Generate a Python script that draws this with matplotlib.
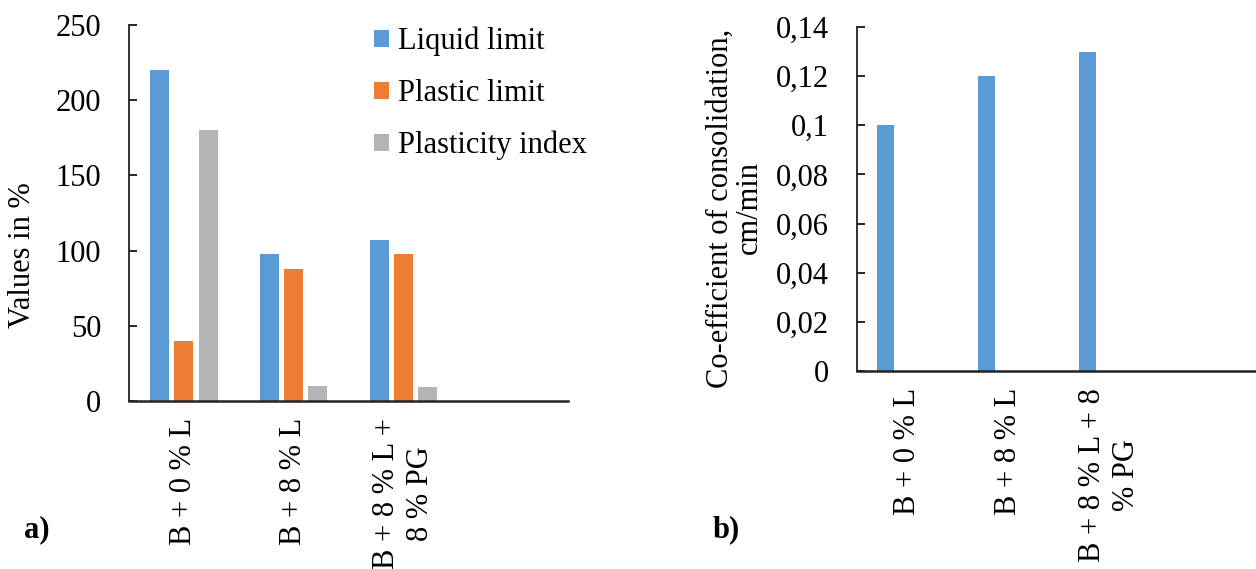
import matplotlib
matplotlib.use("Agg")
import matplotlib.pyplot as plt
import numpy as np
from matplotlib.ticker import FuncFormatter

plt.rcParams['font.family'] = ['Liberation Serif', 'DejaVu Serif']
plt.rcParams['font.size'] = 22

# atterberg limits (panel a)
mixes_a = ["B + 0 % L", "B + 8 % L", "B + 8 % L +\n8 % PG", ""]
liquid_limit = [220, 98, 107, np.nan]
plastic_limit = [40, 88, 98, np.nan]
plasticity_index = [180, 10, 9, np.nan]

# consolidation coefficient (panel b)
mixes_b = ["B + 0 % L", "B + 8 % L", "B + 8 % L + 8\n% PG", ""]
consolidation = [0.10, 0.12, 0.13, np.nan]

c_blue = '#5B9BD5'
c_orange = '#ED7D31'
c_gray = '#B4B4B4'

W, H = 1256, 569
fig = plt.figure(figsize=(W / 100, H / 100), dpi=100)


def px_axes(x0, y0, x1, y1):
    # axes box given in pixel coords, y measured from top
    return fig.add_axes([x0 / W, 1 - y1 / H, (x1 - x0) / W, (y1 - y0) / H])


def style(ax):
    for s in ['top', 'right']:
        ax.spines[s].set_visible(False)
    ax.spines['left'].set_linewidth(1.3)
    ax.spines['bottom'].set_linewidth(1.8)
    ax.spines['left'].set_color('#222222')
    ax.spines['bottom'].set_color('#222222')
    ax.tick_params(axis='y', direction='in', length=6, width=1.2, pad=20)
    ax.tick_params(axis='x', length=0, pad=12)


# ---- panel a ----
ax1 = px_axes(129, 25, 568, 401)
x = np.arange(len(mixes_a))
w, step = 0.173, 0.222
ax1.bar(x - step, liquid_limit, w, color=c_blue, label='Liquid limit')
ax1.bar(x, plastic_limit, w, color=c_orange, label='Plastic limit')
ax1.bar(x + step, plasticity_index, w, color=c_gray, label='Plasticity index')
ax1.set_xlim(-0.5, len(mixes_a) - 0.5)
ax1.set_ylim(0, 250)
ax1.set_yticks(np.arange(0, 251, 50))
ax1.set_xticks(x)
ax1.set_xticklabels(mixes_a, rotation=90, va='top', ha='center',
                    multialignment='center')
style(ax1)
ax1.legend(loc='upper left', bbox_to_anchor=(374 / W, 1 - 27 / H),
           bbox_transform=fig.transFigure, frameon=False, borderpad=0,
           handlelength=0.5, handleheight=0.5, handletextpad=0.3,
           labelspacing=0.74, borderaxespad=0)
fig.text(23 / W, 1 - 255 / H, "Values in %", rotation=90,
         ha='center', va='center')
fig.text(24 / W, 1 - 530 / H, "a)", fontweight='bold', ha='left', va='center')

# ---- panel b ----
ax2 = px_axes(857, 27, 1261, 371)
xb = np.arange(len(mixes_b))
ax2.bar(xb - 0.22, consolidation, 0.17, color=c_blue)
ax2.set_xlim(-0.5, len(mixes_b) - 0.5)
ax2.set_ylim(0, 0.14)
ax2.set_yticks(np.arange(0, 0.141, 0.02))
ax2.yaxis.set_major_formatter(FuncFormatter(lambda v, p: f"{v:g}".replace('.', ',')))
ax2.set_xticks(xb)
ax2.set_xticklabels(mixes_b, rotation=90, va='top', ha='center',
                    multialignment='center')
style(ax2)
fig.text(735 / W, 1 - 208 / H, "Co-efficient of consolidation,\ncm/min",
         rotation=90, ha='center', va='center', multialignment='center',
         linespacing=1.0)
fig.text(713 / W, 1 - 530 / H, "b)", fontweight='bold', ha='left', va='center')

fig.savefig("out.png", dpi=100)
